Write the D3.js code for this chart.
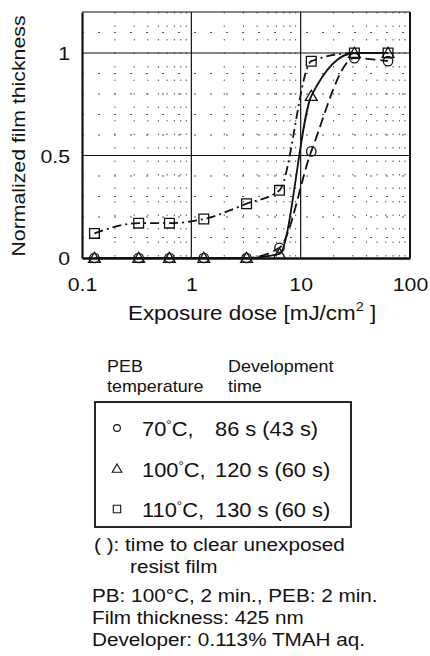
<!DOCTYPE html>
<html>
<head>
<meta charset="utf-8">
<script src="https://cdn.jsdelivr.net/npm/d3@7"></script>
<style>
  body { margin: 0; background: #fff; }
  svg { display: block; font-family: "Liberation Sans", Arial, sans-serif; }
  text { fill: #111; }
</style>
</head>
<body>
<script>
// exposure dose [mJ/cm2] shared by the three series
var dose = [0.13, 0.33, 0.63, 1.3, 3.2, 6.4, 12.5, 31, 63];
// normalized film thickness
var thick70  = [0, 0, 0, 0, 0, 0.05, 0.52, 0.975, 0.96];
var thick100 = [0, 0, 0, 0, 0, 0.02, 0.79, 1.0, 1.0];
var thick110 = [0.12, 0.17, 0.17, 0.19, 0.265, 0.33, 0.96, 1.0, 1.0];

var xTicks = [0.1, 1, 10, 100];
var yTicks = [0, 0.5, 1];
var xMajor = [1, 10];
var yMajor = [0.5, 1];

var legendTemp = ["70", "100", "110"];
var legendTime = ["86 s (43 s)", "120 s (60 s)", "130 s (60 s)"];
var legendSym = ["circle", "triangle", "square"];
var notes = ["( ): time to clear unexposed", "resist film",
             "PB: 100°C, 2 min., PEB: 2 min.", "Film thickness: 425 nm",
             "Developer: 0.113% TMAH aq."];

var W = 430, H = 656;
var SX = 1.12; // the scanned lettering is a little wide
var margin = {top: 12, right: 20, bottom: 398, left: 82},
    width = W - margin.left - margin.right,
    height = H - margin.top - margin.bottom;

var svg = d3.select("body").append("svg")
  .attr("width", W).attr("height", H);

var g = svg.append("g")
  .attr("transform", "translate(" + margin.left + "," + margin.top + ")");

var x = d3.scaleLog().domain([0.1, 100]).range([0, width]);
var y = d3.scaleLinear().domain([0, 1.2]).range([height, 0]);

function label(parent, px, py, str, size, anchor) {
  return parent.append("text")
    .attr("transform", "translate(" + px + "," + py + ") scale(" + SX + ",1)")
    .attr("font-size", size)
    .attr("text-anchor", anchor || "start")
    .text(str);
}

// ---- minor dotted grid ----
var minorX = [];
[0.1, 1, 10].forEach(function(dec){
  for (var k = 2; k <= 9; k++) minorX.push(dec * k);
});
var minorY = d3.range(1, 12).map(function(i){ return i / 10; })
  .filter(function(v){ return Math.abs(v - 0.5) > 1e-6 && Math.abs(v - 1) > 1e-6; });

g.selectAll(".minx").data(minorX).enter().append("line")
  .attr("x1", function(d){ return x(d); }).attr("x2", function(d){ return x(d); })
  .attr("y1", 0).attr("y2", height)
  .attr("stroke", "#555").attr("stroke-width", 1)
  .attr("stroke-dasharray", "1.5,12");

g.selectAll(".miny").data(minorY).enter().append("line")
  .attr("x1", 0).attr("x2", width)
  .attr("y1", function(d){ return y(d); }).attr("y2", function(d){ return y(d); })
  .attr("stroke", "#555").attr("stroke-width", 1)
  .attr("stroke-dasharray", "2,14");

// ---- major grid ----
g.selectAll(".majx").data(xMajor).enter().append("line")
  .attr("x1", function(d){ return x(d); }).attr("x2", function(d){ return x(d); })
  .attr("y1", 0).attr("y2", height)
  .attr("stroke", "#111").attr("stroke-width", 1.2);

g.selectAll(".majy").data(yMajor).enter().append("line")
  .attr("x1", 0).attr("x2", width)
  .attr("y1", function(d){ return y(d); }).attr("y2", function(d){ return y(d); })
  .attr("stroke", "#111").attr("stroke-width", 1.2);

// ---- frame ----
g.append("line").attr("x1", 0).attr("x2", width).attr("y1", 0).attr("y2", 0)
  .attr("stroke", "#111").attr("stroke-width", 1.2);
g.append("line").attr("x1", width).attr("x2", width).attr("y1", 0).attr("y2", height)
  .attr("stroke", "#111").attr("stroke-width", 2);

// ---- series lines ----
var series = [
  {vals: thick70,  sym: "circle",   dash: "10,5"},
  {vals: thick100, sym: "triangle", dash: null},
  {vals: thick110, sym: "square",   dash: "9,4,2,4"}
];

var line = d3.line()
  .x(function(d){ return x(d[0]); })
  .y(function(d){ return y(d[1]); })
  .curve(d3.curveMonotoneX);

series.forEach(function(s){
  var pts = dose.map(function(d, i){ return [d, s.vals[i]]; });
  g.append("path")
    .datum(pts)
    .attr("d", line)
    .attr("fill", "none")
    .attr("stroke", "#111")
    .attr("stroke-width", 1.8)
    .attr("stroke-dasharray", s.dash);
});

// ---- markers ----
var symType = {circle: d3.symbolCircle, triangle: d3.symbolTriangle, square: d3.symbolSquare};
var symSize = {circle: 70, triangle: 60, square: 95};

series.forEach(function(s){
  g.selectAll(".m-" + s.sym)
    .data(dose.map(function(d, i){ return [d, s.vals[i]]; }))
    .enter().append("path")
    .attr("d", d3.symbol().type(symType[s.sym]).size(symSize[s.sym]))
    .attr("transform", function(d){
      return "translate(" + x(d[0]) + "," + (y(d[1]) + (s.sym === "triangle" ? 1 : 0)) + ")";
    })
    .attr("fill", "none")
    .attr("stroke", "#111")
    .attr("stroke-width", 1.3);
});

// ---- axes ----
var xAxis = d3.axisBottom(x).tickValues(xTicks).tickSize(0)
  .tickFormat(function(d){ return String(d); });
var yAxis = d3.axisLeft(y).tickValues(yTicks).tickSize(0)
  .tickFormat(function(d){ return String(d); });

var gx = g.append("g")
  .attr("transform", "translate(0," + height + ")")
  .call(xAxis);
gx.select(".domain").attr("stroke", "#111").attr("stroke-width", 2.6);
gx.selectAll("text")
  .attr("y", 0).attr("dy", 0)
  .attr("transform", "translate(0,33) scale(" + SX + ",1)")
  .attr("font-size", 19).attr("fill", "#111")
  .attr("font-family", "Liberation Sans, Arial, sans-serif");

var gy = g.append("g").call(yAxis);
gy.select(".domain").attr("stroke", "#111").attr("stroke-width", 2.2);
gy.selectAll("text")
  .attr("x", 0).attr("dy", "0.36em")
  .attr("transform", "translate(-12,0) scale(" + SX + ",1)")
  .attr("font-size", 19).attr("fill", "#111")
  .attr("font-family", "Liberation Sans, Arial, sans-serif");

// ---- axis titles ----
svg.append("text")
  .attr("transform", "translate(25,136) rotate(-90) scale(" + SX + ",1)")
  .attr("text-anchor", "middle")
  .attr("font-size", 19)
  .text("Normalized film thickness");

var xt = label(svg, 128, 320, "", 20, "start");
xt.append("tspan").text("Exposure dose [mJ/cm");
xt.append("tspan").attr("font-size", 13).attr("dy", -9).text("2");
xt.append("tspan").attr("dy", 9).text(" ]");

// ---- legend ----
label(svg, 107, 372, "PEB", 16);
label(svg, 107, 392, "temperature", 16);
label(svg, 228, 372, "Development", 16);
label(svg, 228, 392, "time", 16);

svg.append("rect")
  .attr("x", 95).attr("y", 402).attr("width", 256).attr("height", 125)
  .attr("fill", "none").attr("stroke", "#111").attr("stroke-width", 1.8);

var rowY = d3.scaleLinear().domain([0, 2]).range([428, 509]);
legendSym.forEach(function(s, i){
  svg.append("path")
    .attr("d", d3.symbol().type(symType[s]).size(s === "square" ? 55 : (s === "circle" ? 36 : 40)))
    .attr("transform", "translate(117," + (rowY(i) + (s === "triangle" ? 1 : 0)) + ")")
    .attr("fill", "none").attr("stroke", "#111").attr("stroke-width", 1.1);
  var t = label(svg, 142, rowY(i) + 8, "", 19.5);
  t.append("tspan").text(legendTemp[i]);
  t.append("tspan").attr("font-size", 12).attr("dy", -7).text("°");
  t.append("tspan").attr("dy", 7).text("C,");
  label(svg, 215, rowY(i) + 8, legendTime[i], 19.5);
});

// ---- notes ----
var noteX = [94, 130, 92, 92, 92];
var noteY = [551, 573, 602, 624, 646];
notes.forEach(function(t, i){
  label(svg, noteX[i], noteY[i], t, 18.5);
});
</script>
</body>
</html>
